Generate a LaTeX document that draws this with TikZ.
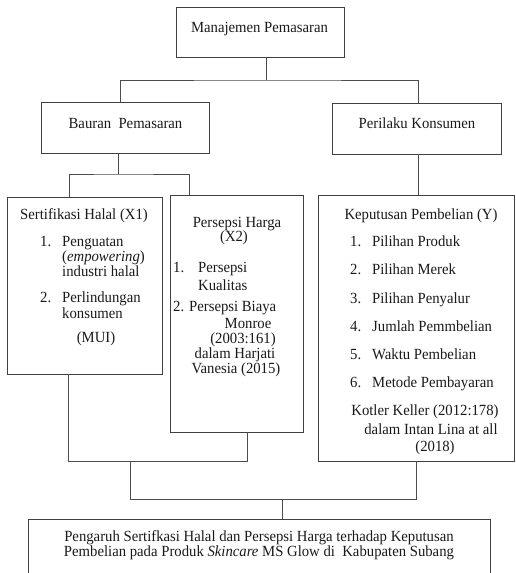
\documentclass[tikz,border=0pt]{standalone}
\usepackage{fontspec}
\setmainfont{Liberation Serif}[FakeStretch=0.95]
\begin{document}
\begin{tikzpicture}[x=1pt,y=-1pt,
  box/.style={draw=black!75,line width=0.9pt,inner sep=0pt},
  conn/.style={draw=black!70,line width=0.9pt},
  txt/.style={inner sep=0pt,font=\fontsize{15.5}{17}\selectfont,text=black!90,anchor=base},
  txtl/.style={txt,anchor=base west}]
\useasboundingbox (0,0) rectangle (516,573);
\clip (0,0) rectangle (516,573);
% boxes
\node[box,minimum width=168pt,minimum height=50pt] (m) at (260,32) {};
\node[box,minimum width=168pt,minimum height=51pt] (b) at (125,127.5) {};
\node[box,minimum width=169pt,minimum height=51pt] (p) at (416.5,128.5) {};
\node[box,minimum width=155pt,minimum height=177pt] (s) at (84.5,285.5) {};
\node[box,minimum width=133pt,minimum height=237pt] (h) at (236.5,313.5) {};
\node[box,minimum width=196pt,minimum height=266pt] (k) at (416,328) {};
\node[box,minimum width=462pt,minimum height=82pt] (o) at (259,560) {};
% connectors
\coordinate (j1) at (266,80);
\coordinate (j2) at (118,174);
\coordinate (j3) at (130,461);
\coordinate (j4) at (282,499);
\draw[conn] ([xshift=6pt]m.south) -- (j1);
\draw[conn] ([xshift=-5pt]b.north) |- (j1) -| ([xshift=1.5pt]p.north);
\draw[conn] ([xshift=-7pt]b.south) -- (j2);
\draw[conn] ([xshift=-15.5pt]s.north) |- (j2) -| ([xshift=-47.5pt]h.north);
\draw[conn] ([xshift=1.5pt]p.south) -- ([xshift=1.5pt]p.south |- k.north);
\draw[conn] ([xshift=-16.5pt]s.south) |- ([xshift=10.5pt]h.south |- j3) -- ([xshift=10.5pt]h.south);
\draw[conn] (j3) |- (k.south |- j4) -- (k.south);
\draw[conn] (j4) -- (j4 |- o.north);
% texts
\node[txt] (tm) at (259.5,32.5) {Manajemen Pemasaran};
\node[txt] (tb) at (125.5,128.5) {Bauran\ \ Pemasaran};
\node[txt] (tp) at (417,128.5) {Perilaku Konsumen};
% Sertifikasi
\node[txt] (s0) at (84,219) {Sertifikasi Halal (X1)};
\node[txtl] (s1n) at (40,246) {1.};
\node[txtl] (s1a) at (62,246) {Penguatan};
\node[txtl] (s1b) at (62,261) {(\emph{empowering})};
\node[txtl] (s1c) at (62,276) {industri halal};
\node[txtl] (s2n) at (40,302) {2.};
\node[txtl] (s2a) at (62,302) {Perlindungan};
\node[txtl] (s2b) at (62,318) {konsumen};
\node[txt] (s3) at (96,342) {(MUI)};
% Persepsi Harga
\node[txt] (h0) at (237,227) {Persepsi Harga};
\node[txt] (h0b) at (234,241) {(X2)};
\node[txtl] (h1n) at (173,272) {1.};
\node[txtl] (h1a) at (198,272) {Persepsi};
\node[txtl] (h1b) at (198,290) {Kualitas};
\node[txtl] (h2) at (173,311) {2. Persepsi Biaya};
\node[txt] (h3) at (248,328) {Monroe};
\node[txt] (h4) at (243,343) {(2003:161)};
\node[txt] (h5) at (235,358) {dalam Harjati};
\node[txt] (h6) at (236,373) {Vanesia (2015)};
% Keputusan
\node[txt] (k0) at (421,219) {Keputusan Pembelian (Y)};
\node[txtl] (k1n) at (350,246) {1.};
\node[txtl] (k1) at (372,246) {Pilihan Produk};
\node[txtl] (k2n) at (350,274) {2.};
\node[txtl] (k2) at (372,274) {Pilihan Merek};
\node[txtl] (k3n) at (350,303) {3.};
\node[txtl] (k3) at (372,303) {Pilihan Penyalur};
\node[txtl] (k4n) at (350,331) {4.};
\node[txtl] (k4) at (372,331) {Jumlah Pemmbelian};
\node[txtl] (k5n) at (350,359) {5.};
\node[txtl] (k5) at (372,359) {Waktu Pembelian};
\node[txtl] (k6n) at (350,387) {6.};
\node[txtl] (k6) at (372,387) {Metode Pembayaran};
\node[txt] (k7) at (425,415) {Kotler Keller (2012:178)};
\node[txt] (k8) at (431,434) {dalam Intan Lina at all};
\node[txt] (k9) at (435,451) {(2018)};
% bottom
\node[txt] (o1) at (259,541) {Pengaruh Sertifkasi Halal dan Persepsi Harga terhadap Keputusan};
\node[txt] (o2) at (259,556) {Pembelian pada Produk \emph{Skincare} MS Glow di\ \ Kabupaten Subang};
\end{tikzpicture}
\end{document}
